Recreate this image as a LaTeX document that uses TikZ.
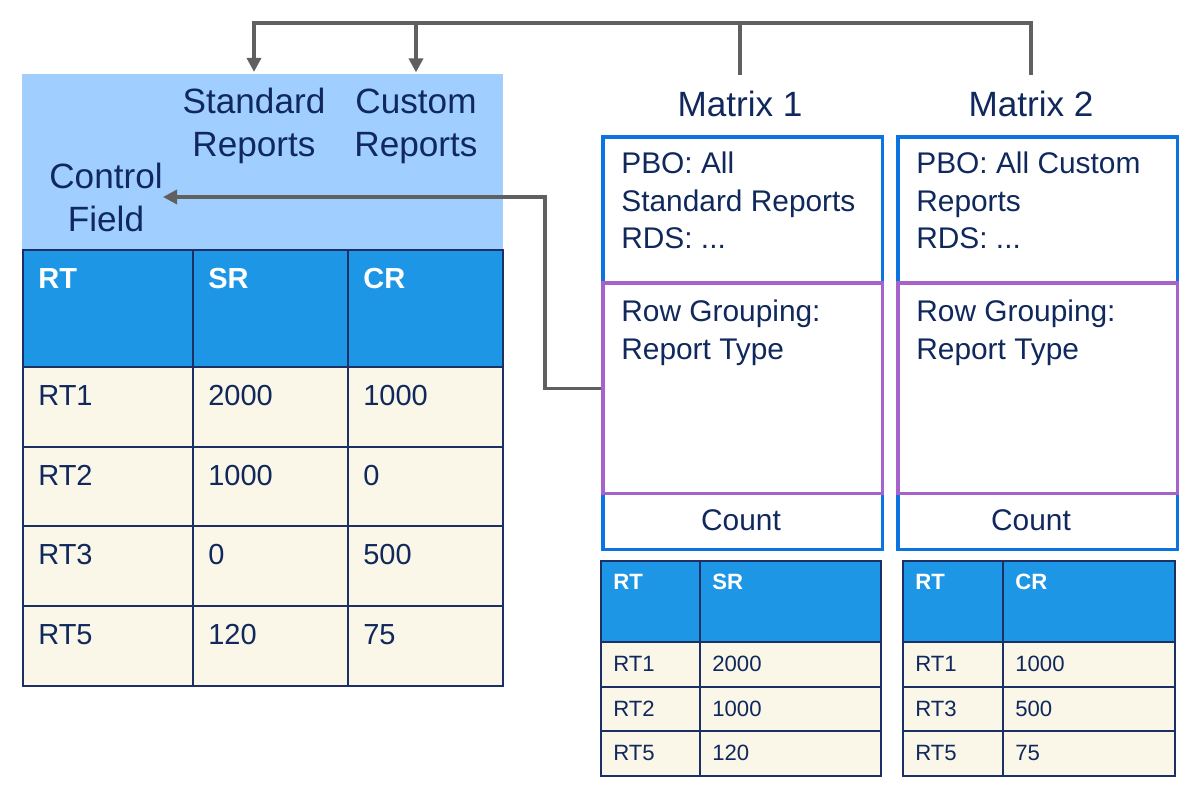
\documentclass[tikz,border=0pt]{standalone}
\usepackage{fontspec}
\setmainfont{Liberation Sans}
\usepackage{tikz}
\usetikzlibrary{arrows.meta, positioning}

\definecolor{navy}{RGB}{16,40,92}
\definecolor{gridline}{RGB}{28,48,102}
\definecolor{headblue}{RGB}{30,150,230}
\definecolor{cream}{RGB}{250,247,232}
\definecolor{paleblue}{RGB}{160,207,255}
\definecolor{boxblue}{RGB}{12,116,224}
\definecolor{purp}{RGB}{166,99,204}
\definecolor{wire}{RGB}{96,96,96}

\begin{document}
\begin{tikzpicture}[x=0.02cm, y=-0.02cm,
    lbl/.style={text=navy, font=\fontsize{20}{24.5}\selectfont, align=center, inner sep=9pt},
    boxtxt/.style={text=navy, font=\fontsize{17}{21.3}\selectfont, align=left, inner sep=0pt, anchor=north west},
    headcell/.style={fill=headblue, draw=gridline, line width=1.4pt},
    bodycell/.style={fill=cream, draw=gridline, line width=1.4pt},
    headtxt/.style={text=white, font=\bfseries\fontsize{16.5}{20}\selectfont, inner sep=0pt, anchor=base west},
    bodytxt/.style={text=navy, font=\fontsize{16.5}{20}\selectfont, inner sep=0pt, anchor=base west},
    sheadcell/.style={fill=headblue, draw=gridline, line width=1.2pt},
    sbodycell/.style={fill=cream, draw=gridline, line width=1.2pt},
    sheadtxt/.style={text=white, font=\bfseries\fontsize{12.6}{15}\selectfont, inner sep=0pt, anchor=base west},
    sbodytxt/.style={text=navy, font=\fontsize{12.6}{15}\selectfont, inner sep=0pt, anchor=base west},
    mbox/.style={draw=boxblue, line width=2pt, minimum width=5.6cm, anchor=north west},
    grpbox/.style={draw=purp, line width=2pt, minimum width=5.6cm, minimum height=4.22cm, anchor=north west},
    link/.style={draw=wire, line width=1.9pt, -{Triangle[length=8pt,width=8pt]}}]
\useasboundingbox (0,0) rectangle (1200,800);

\fill[paleblue] (22,74) rectangle (503,250);
\node[lbl] (std) at (254,126) {Standard\\Reports};
\node[lbl] (cus) at (416,126) {Custom\\Reports};
\node[lbl, inner xsep=0pt] (cf) at (106,197) {Control\\Field};

% big table
\foreach \x/\w/\txt [count=\j] in {23/193/RT, 193/348/SR, 348/503/CR}{
  \draw[headcell] (\x,250) rectangle (\w,367);
  \node[headtxt] (lh\j) at (\x+15,289) {\txt};
}
\foreach \t/\b/\p/\q/\s [count=\i] in {367/447/RT1/2000/1000, 447/526/RT2/1000/0, 526/606/RT3/0/500, 606/686/RT5/120/75}{
  \draw[bodycell] (23,\t) rectangle (193,\b);
  \draw[bodycell] (193,\t) rectangle (348,\b);
  \draw[bodycell] (348,\t) rectangle (503,\b);
  \node[bodytxt] (l\i-a) at (38,\t+38) {\p};
  \node[bodytxt] (l\i-b) at (208,\t+38) {\q};
  \node[bodytxt] (l\i-c) at (363,\t+38) {\s};
}

% matrices
\node[lbl] (m1) at (740,104) {Matrix 1};
\node[lbl] (m2) at (1031,104) {Matrix 2};
\node[mbox, minimum height=8.26cm] (box1) at (601,135) {};
\node[mbox, minimum height=8.26cm] (box2) at (896,135) {};
\node[grpbox] (grp1) at (601,281) {};
\node[grpbox] (grp2) at (896,281) {};
\node[boxtxt] (pbo1) at (621,152) {PBO: All\\Standard Reports\\RDS: ...};
\node[boxtxt] (pbo2) at (916,152) {PBO: All Custom\\Reports\\RDS: ...};
\node[boxtxt] (rg1) at (621,300) {Row Grouping:\\Report Type};
\node[boxtxt] (rg2) at (916,300) {Row Grouping:\\Report Type};
\node[boxtxt, anchor=center] (cnt1) at (741,520) {Count};
\node[boxtxt, anchor=center] (cnt2) at (1031,520) {Count};

% small tables
\foreach \x/\y/\w/\a/\b [count=\k] in {601/700/881/RT/SR, 903/1003/1175/RT/CR}{
  \draw[sheadcell] (\x,561) rectangle (\y,642);
  \draw[sheadcell] (\y,561) rectangle (\w,642);
  \node[sheadtxt] (s\k-ha) at (\x+12,589) {\a};
  \node[sheadtxt] (s\k-hb) at (\y+12,589) {\b};
}
\foreach \t/\b/\p/\q/\r/\s [count=\i] in {642/687/RT1/2000/RT1/1000, 687/731/RT2/1000/RT3/500, 731/776/RT5/120/RT5/75}{
  \draw[sbodycell] (601,\t) rectangle (700,\b);
  \draw[sbodycell] (700,\t) rectangle (881,\b);
  \draw[sbodycell] (903,\t) rectangle (1003,\b);
  \draw[sbodycell] (1003,\t) rectangle (1175,\b);
  \node[sbodytxt] (s1-\i a) at (613,\t+29) {\p};
  \node[sbodytxt] (s1-\i b) at (712,\t+29) {\q};
  \node[sbodytxt] (s2-\i a) at (915,\t+29) {\r};
  \node[sbodytxt] (s2-\i b) at (1015,\t+29) {\s};
}

% connectors
\coordinate (bus) at (741,23);
\draw[link] (m2.north) |- (std.north |- bus) -- (std.north);
\draw[link, -] (m1.north) -- (m1.north |- bus);
\draw[link] (cus.north |- bus) -- (cus.north);
\draw[link] (grp1.west) -- ++(-56,0) |- (cf.east);
\end{tikzpicture}
\end{document}
